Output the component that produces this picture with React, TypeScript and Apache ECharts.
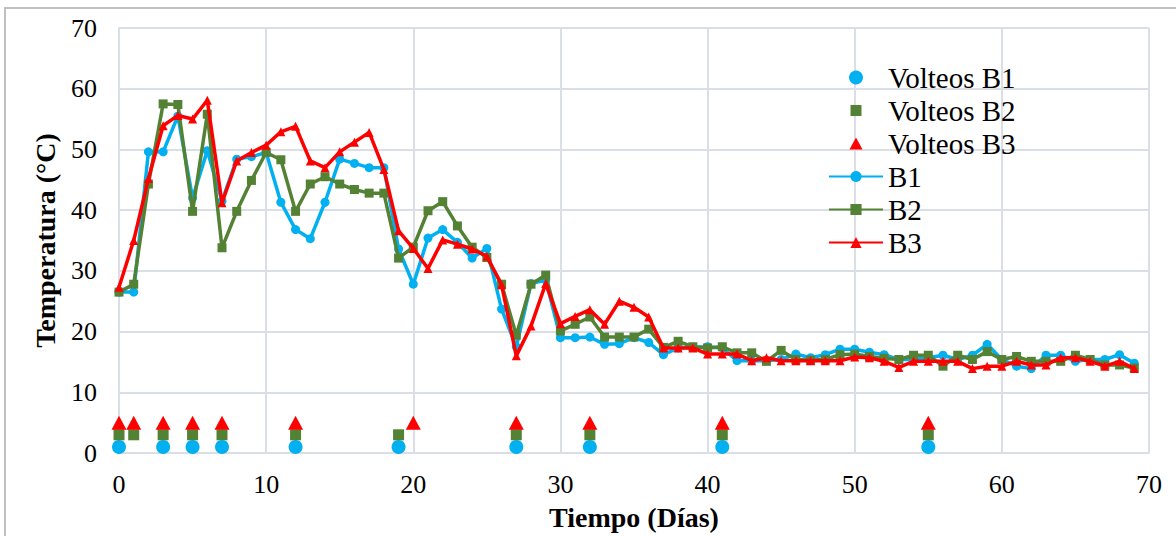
import React, { useEffect, useRef } from "react";
import * as echarts from "echarts";

const days: number[] = Array.from({ length: 70 }, (_, i) => i);

const b1: number[] = [
  26.5, 26.5, 49.6, 49.6, 55.5, 42.0, 49.8, 41.5, 48.4, 48.8,
  49.5, 41.3, 36.8, 35.3, 41.3, 48.4, 47.7, 47.0, 47.0, 33.6,
  27.8, 35.4, 36.8, 34.7, 32.1, 33.7, 23.7, 17.5, 27.9, 28.5,
  19.0, 19.0, 19.1, 17.9, 18.0, 19.0, 18.2, 16.2, 17.3, 17.4,
  17.5, 17.3, 15.2, 15.2, 15.2, 15.4, 16.3, 15.7, 16.2, 17.1,
  17.1, 16.6, 16.2, 15.4, 15.4, 15.7, 16.1, 15.4, 16.1, 17.9,
  15.4, 14.3, 13.9, 16.1, 16.1, 15.1, 15.4, 15.4, 16.2, 14.8,
];

const b2: number[] = [
  26.5, 27.8, 44.3, 57.5, 57.4, 39.8, 55.8, 33.8, 39.8, 44.9,
  49.5, 48.3, 39.8, 44.3, 45.5, 44.3, 43.4, 42.8, 42.8, 32.1,
  33.9, 39.9, 41.4, 37.4, 33.9, 32.2, 27.8, 19.4, 27.8, 29.3,
  20.1, 21.2, 22.4, 19.1, 19.1, 19.1, 20.4, 17.4, 18.4, 17.5,
  17.3, 17.5, 16.5, 16.5, 15.1, 16.9, 15.4, 15.3, 15.4, 16.2,
  16.3, 15.9, 15.6, 15.4, 16.1, 16.1, 14.3, 16.1, 15.4, 16.7,
  15.4, 15.9, 15.1, 15.1, 15.1, 16.1, 15.4, 14.5, 14.5, 14.0,
];

const b3: number[] = [
  27.3, 35.0, 45.2, 53.9, 55.6, 55.0, 58.1, 41.2, 48.1, 49.5,
  50.7, 52.9, 53.8, 48.1, 47.0, 49.6, 51.2, 52.8, 46.7, 36.6,
  33.7, 30.4, 35.1, 34.4, 33.6, 32.4, 27.7, 16.0, 20.9, 27.9,
  21.3, 22.5, 23.6, 21.2, 25.0, 24.0, 22.4, 17.3, 17.3, 17.3,
  16.3, 16.3, 16.3, 15.2, 15.7, 15.2, 15.2, 15.2, 15.2, 15.2,
  15.8, 15.7, 15.1, 14.1, 15.1, 15.1, 15.1, 15.1, 13.9, 14.3,
  14.3, 15.1, 14.5, 14.5, 15.7, 15.7, 15.1, 14.3, 15.1, 13.9,
];

const volteosB1Days: number[] = [0, 3, 5, 7, 12, 19, 27, 32, 41, 55];
const volteosB2Days: number[] = [0, 1, 3, 5, 7, 12, 19, 27, 32, 41, 55];
const volteosB3Days: number[] = [0, 1, 3, 5, 7, 12, 20, 27, 32, 41, 55];
const volteosB1Level = 1;
const volteosB2Level = 3;
const volteosB3Level = 5;

const xTicks: number[] = [0, 10, 20, 30, 40, 50, 60, 70];
const yTicks: number[] = [0, 10, 20, 30, 40, 50, 60, 70];

const BLUE = "#00B0F0";
const GREEN = "#548235";
const RED = "#FF0000";
const GRID = "#dadee6";
const FONT = "Liberation Serif";

export default function App() {
  const ref = useRef<HTMLDivElement>(null);

  useEffect(() => {
    if (!ref.current) return;
    const chart = echarts.init(ref.current, undefined, { renderer: "svg" });
    const pair = (xs: number[], ys: number[]) => xs.map((x, i) => [x, ys[i]]);
    const level = (xs: number[], v: number) => xs.map((x) => [x, v]);

    chart.setOption({
      animation: false,
      backgroundColor: "#ffffff",
      textStyle: { fontFamily: FONT },
      graphic: [
        {
          type: "rect",
          shape: { x: 5, y: 8, width: 1190, height: 560 },
          style: { fill: "none", stroke: "#c0c0c0", lineWidth: 2 },
          silent: true,
        },
      ],
      grid: { left: 119, right: 27, top: 28, bottom: 81, containLabel: false },
      legend: {
        orient: "vertical",
        left: 823,
        top: 58,
        itemWidth: 54,
        itemHeight: 14,
        itemGap: 4,
        symbolKeepAspect: true,
        textStyle: { fontFamily: FONT, fontSize: 29, color: "#000" },
        data: [
          { name: "Volteos B1", icon: "circle", symbolKeepAspect: true },
          { name: "Volteos B2", icon: "path://M0,0M14,14M1.5,1.5L12.5,1.5L12.5,12.5L1.5,12.5Z", symbolKeepAspect: true },
          { name: "Volteos B3", icon: "path://M0,0M14,14M7,1L13.5,13L0.5,13Z", symbolKeepAspect: true },
          { name: "B1" },
          { name: "B2" },
          { name: "B3" },
        ],
      },
      xAxis: {
        type: "value",
        min: xTicks[0],
        max: xTicks[xTicks.length - 1],
        interval: 10,
        name: "Tiempo (Días)",
        nameLocation: "middle",
        nameGap: 50,
        nameTextStyle: { fontFamily: FONT, fontSize: 28, fontWeight: "bold", color: "#000" },
        axisLine: { show: true, lineStyle: { color: GRID, width: 2 } },
        axisTick: { show: false },
        axisLabel: { fontFamily: FONT, fontSize: 26, color: "#000", margin: 18 },
        splitLine: { show: true, lineStyle: { color: GRID, width: 2 } },
      },
      yAxis: {
        type: "value",
        min: yTicks[0],
        max: yTicks[yTicks.length - 1],
        interval: 10,
        name: "Temperatura (°C)",
        nameLocation: "middle",
        nameGap: 60,
        nameTextStyle: { fontFamily: FONT, fontSize: 28, fontWeight: "bold", color: "#000" },
        axisLine: { show: true, lineStyle: { color: GRID, width: 2 } },
        axisTick: { show: false },
        axisLabel: { fontFamily: FONT, fontSize: 26, color: "#000", margin: 22 },
        splitLine: { show: true, lineStyle: { color: GRID, width: 2 } },
      },
      series: [
        {
          name: "Volteos B1",
          type: "scatter",
          symbol: "circle",
          symbolSize: 14,
          symbolKeepAspect: true,
          itemStyle: { color: BLUE, opacity: 1 },
          data: level(volteosB1Days, volteosB1Level),
          z: 3,
        },
        {
          name: "Volteos B2",
          type: "scatter",
          symbol: "rect",
          symbolSize: 11,
          symbolKeepAspect: true,
          itemStyle: { color: GREEN, opacity: 1 },
          data: level(volteosB2Days, volteosB2Level),
          z: 3,
        },
        {
          name: "Volteos B3",
          type: "scatter",
          symbol: "triangle",
          symbolSize: [15, 14],
          symbolKeepAspect: true,
          itemStyle: { color: RED, opacity: 1 },
          data: level(volteosB3Days, volteosB3Level),
          z: 4,
        },
        {
          name: "B1",
          type: "line",
          symbol: "circle",
          symbolSize: 9,
          showSymbol: true,
          itemStyle: { color: BLUE },
          lineStyle: { color: BLUE, width: 3.5 },
          data: pair(days, b1),
          z: 5,
        },
        {
          name: "B2",
          type: "line",
          symbol: "rect",
          symbolSize: 9,
          showSymbol: true,
          itemStyle: { color: GREEN },
          lineStyle: { color: GREEN, width: 3.5 },
          data: pair(days, b2),
          z: 6,
        },
        {
          name: "B3",
          type: "line",
          symbol: "triangle",
          symbolSize: 9,
          showSymbol: true,
          itemStyle: { color: RED },
          lineStyle: { color: RED, width: 3.5 },
          data: pair(days, b3),
          z: 7,
        },
      ],
    });
    return () => chart.dispose();
  }, []);

  return (
    <div
      ref={ref}
      style={{ position: "fixed", left: 0, top: 0, width: 1176, height: 536, background: "#fff" }}
    />
  );
}
